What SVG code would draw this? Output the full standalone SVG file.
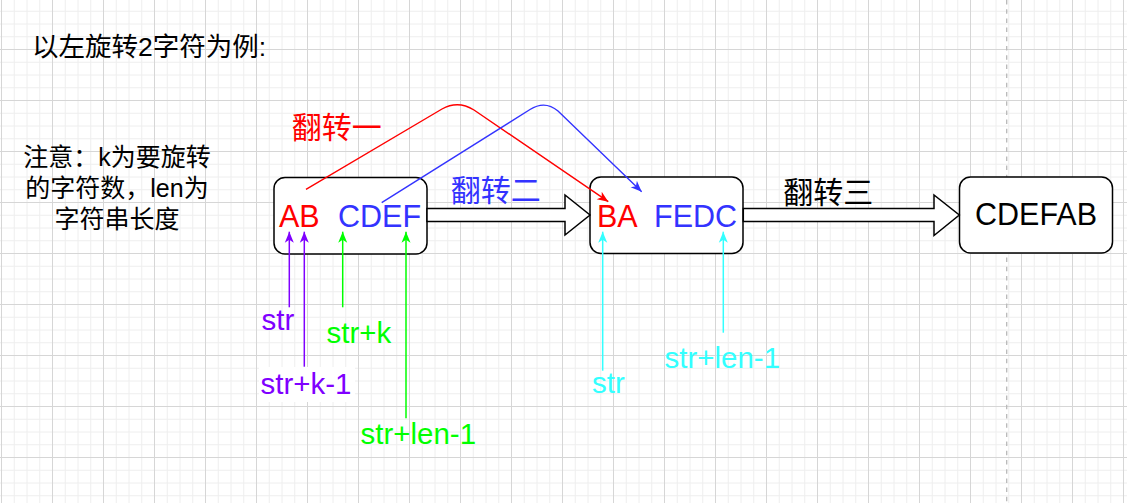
<svg xmlns="http://www.w3.org/2000/svg" width="1127" height="503" viewBox="0 0 1127 503">
<style>
.box{fill:#fff;stroke:#000;stroke-width:1.5}
.lat{font-family:"Liberation Sans",Arial,sans-serif;font-size:29.5px}
.big{font-family:"Liberation Sans",Arial,sans-serif;font-size:30.5px}
.cjk{font-family:"Liberation Sans","Noto Sans CJK SC",sans-serif}
.blk{fill:#fff;stroke:#000;stroke-width:1.5;stroke-linejoin:miter}
.ptr{fill:none;stroke-width:1.5}
</style>
<defs>
<pattern id="grid" patternUnits="userSpaceOnUse" x="1" y="49" width="51" height="51">
<path d="M13.25 0V51M26 0V51M38.75 0V51M0 13.25H51M0 26H51M0 38.75H51" stroke="#eeeeee" stroke-width="1" fill="none"/>
<path d="M0.5 0V51M0 0.5H51" stroke="#d6d6d6" stroke-width="1" fill="none"/>
</pattern>
<marker id="mRed" viewBox="0 0 12 10" markerUnits="userSpaceOnUse" markerWidth="12" markerHeight="10" refX="11" refY="5" orient="auto"><path d="M0 0.5L11 5L0 9.5L3 5Z" fill="#ff0000"/></marker>
<marker id="mBlue" viewBox="0 0 12 10" markerUnits="userSpaceOnUse" markerWidth="12" markerHeight="10" refX="11" refY="5" orient="auto"><path d="M0 0.5L11 5L0 9.5L3 5Z" fill="#3333ff"/></marker>
<marker id="mPur" viewBox="0 0 12 10" markerUnits="userSpaceOnUse" markerWidth="12" markerHeight="10" refX="11" refY="5" orient="auto"><path d="M0 0.5L11 5L0 9.5L3 5Z" fill="#7f00ff"/></marker>
<marker id="mGrn" viewBox="0 0 12 10" markerUnits="userSpaceOnUse" markerWidth="12" markerHeight="10" refX="11" refY="5" orient="auto"><path d="M0 0.5L11 5L0 9.5L3 5Z" fill="#00ff00"/></marker>
<marker id="mCyn" viewBox="0 0 12 10" markerUnits="userSpaceOnUse" markerWidth="12" markerHeight="10" refX="11" refY="5" orient="auto"><path d="M0 0.5L11 5L0 9.5L3 5Z" fill="#33ffff"/></marker>
</defs>
<rect width="1127" height="503" fill="#fff"/>
<rect width="1127" height="503" fill="url(#grid)"/>
<line x1="1006.7" y1="0" x2="1006.7" y2="503" stroke="#b8b8b8" stroke-width="1.3" stroke-dasharray="4.5 4.7"/>

<g id="title"><text class="cjk" x="32" y="55.5" font-size="26.5" fill="#000">以左旋转2字符为例:</text></g>
<g id="note" class="cjk" font-size="25" fill="#000" text-anchor="middle">
<text x="117" y="166">注意：k为要旋转</text>
<text x="117" y="197">的字符数，len为</text>
<text x="117" y="228">字符串长度</text>
</g>

<g id="box1"><rect class="box" x="274" y="177.5" width="153" height="76.5" rx="11"/>
<text class="big" x="279" y="226.5" fill="#ff0000">AB</text>
<text class="big" x="338" y="226.5" fill="#3333ff">CDEF</text></g>
<g id="box2"><rect class="box" x="590" y="177" width="153" height="76.5" rx="11"/>
<text class="big" x="597" y="226.5" fill="#ff0000">BA</text>
<text class="big" x="654" y="226.5" fill="#3333ff">FEDC</text></g>
<g id="box3"><rect class="box" x="959.5" y="177" width="153" height="76" rx="11"/>
<text class="big" x="1036" y="225" fill="#000" text-anchor="middle">CDEFAB</text></g>

<g id="connectors">
<path class="blk" d="M427 208.5H565V195L590 215L565 235V221.5H427Z"/>
<path class="blk" d="M743.3 208.5H934V195L959.3 215L934 235.5V221.5H743.3Z"/>
<path d="M306 189.3L442 109Q458 100 474 110L608.3 201.7" fill="none" stroke="#ff0000" stroke-width="1.4" marker-end="url(#mRed)"/>
<path d="M381.7 202.7L530 109.5Q545 100 558 111L641.7 191.7" fill="none" stroke="#3333ff" stroke-width="1.4" marker-end="url(#mBlue)"/>
<line class="ptr" x1="289.3" y1="307.3" x2="289.3" y2="231.7" stroke="#7f00ff" marker-end="url(#mPur)"/>
<line class="ptr" x1="304.3" y1="366.7" x2="304.3" y2="231.7" stroke="#7f00ff" marker-end="url(#mPur)"/>
<line class="ptr" x1="342.7" y1="307.3" x2="342.7" y2="231.7" stroke="#00ff00" marker-end="url(#mGrn)"/>
<line class="ptr" x1="406" y1="418.3" x2="406" y2="231.7" stroke="#00ff00" marker-end="url(#mGrn)"/>
<line class="ptr" x1="602.7" y1="370.7" x2="602.7" y2="231.7" stroke="#33ffff" marker-end="url(#mCyn)"/>
<line class="ptr" x1="723.3" y1="332.7" x2="723.3" y2="231.7" stroke="#33ffff" marker-end="url(#mCyn)"/>
</g>

<g id="labels">
<text class="cjk" x="291.7" y="138" font-size="30" fill="#ff0000">翻转一</text>
<text class="cjk" x="450.7" y="201" font-size="30" fill="#3333ff">翻转二</text>
<text class="cjk" x="783.3" y="202.5" font-size="30" fill="#000">翻转三</text>
<text class="lat" x="261.5" y="330" fill="#7f00ff">str</text>
<rect x="259" y="367" width="96" height="35" fill="#fff"/>
<text class="lat" x="260.5" y="394" fill="#7f00ff">str+k-1</text>
<text class="lat" x="326.5" y="343.3" fill="#00ff00">str+k</text>
<text class="lat" x="360.5" y="444" fill="#00ff00">str+len-1</text>
<text class="lat" x="592" y="393.3" fill="#33ffff">str</text>
<text class="lat" x="664.5" y="367.7" fill="#33ffff">str+len-1</text>
</g>
</svg>
